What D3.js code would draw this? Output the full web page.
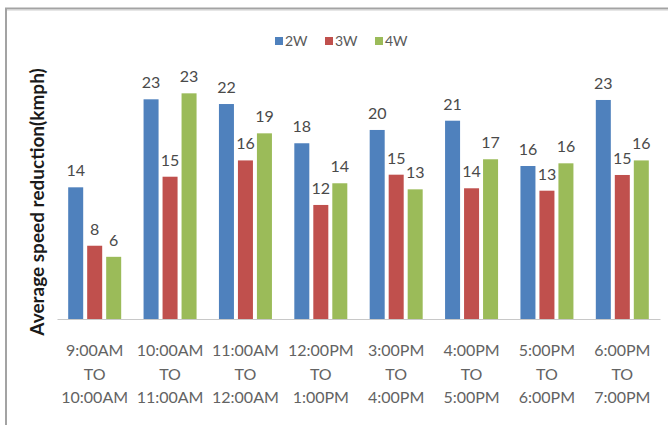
<!DOCTYPE html>
<html>
<head>
<meta charset="utf-8">
<script src="https://cdn.jsdelivr.net/npm/d3@7"></script>
<style>
  html, body { margin: 0; padding: 0; background: #fff; }
  svg { display: block; }
</style>
</head>
<body>
<svg id="chart" width="668" height="425"></svg>
<script>
const categories = [
  "9:00AM|TO|10:00AM",
  "10:00AM|TO|11:00AM",
  "11:00AM|TO|12:00AM",
  "12:00PM|TO|1:00PM",
  "3:00PM|TO|4:00PM",
  "4:00PM|TO|5:00PM",
  "5:00PM|TO|6:00PM",
  "6:00PM|TO|7:00PM"
];
const seriesNames = ["2W", "3W", "4W"];
const values2W = [13.66, 22.79, 22.30, 18.23, 19.61, 20.57, 15.87, 22.72];
const values3W = [7.60, 14.76, 16.45, 11.83, 14.97, 13.56, 13.31, 14.94];
const values4W = [6.45, 23.41, 19.26, 14.08, 13.45, 16.57, 16.15, 16.45];
const seriesColors = ["#4F81BD", "#C0504D", "#9BBB59"];
const yTitle = "Average speed reduction(kmph)";

const seriesValues = [values2W, values3W, values4W];
const svg = d3.select("#chart");
const FONT = "Lato, 'Open Sans', sans-serif";

// frame (top and left edges visible)
svg.append("line").attr("x1", 5).attr("x2", 668).attr("y1", 8.5).attr("y2", 8.5)
  .attr("stroke", "#a3a3a3").attr("stroke-width", 2);
svg.append("line").attr("x1", 6).attr("x2", 6).attr("y1", 8).attr("y2", 425)
  .attr("stroke", "#a3a3a3").attr("stroke-width", 2);
svg.append("line").attr("x1", 7).attr("x2", 668).attr("y1", 10.5).attr("y2", 10.5)
  .attr("stroke", "#e6e6e6").attr("stroke-width", 1);

const x = d3.scaleBand().domain(categories).range([57, 660]).paddingInner(0).paddingOuter(0);
const xSub = d3.scaleBand().domain(seriesNames).range([-26.5, 26.5]).paddingInner(0.21);
const y = d3.scaleLinear().domain([0, 25]).range([319, 78]);

const rows = [];
categories.forEach((c, i) => {
  seriesNames.forEach((s, j) => {
    rows.push({ cat: c, series: s, value: seriesValues[j][i], color: seriesColors[j] });
  });
});

const g = svg.append("g");
g.selectAll("rect.bar").data(rows).enter().append("rect")
  .attr("class", "bar")
  .attr("x", d => x(d.cat) + x.bandwidth() / 2 + xSub(d.series))
  .attr("width", xSub.bandwidth())
  .attr("y", d => y(d.value))
  .attr("height", d => y(0) - y(d.value))
  .attr("fill", d => d.color);

// data labels
const fmt = d3.format(".0f");
g.selectAll("text.lbl").data(rows).enter().append("text")
  .attr("class", "lbl")
  .attr("x", d => x(d.cat) + x.bandwidth() / 2 + xSub(d.series) + xSub.bandwidth() / 2)
  .attr("y", d => y(d.value) - 11)
  .attr("text-anchor", "middle")
  .attr("font-family", FONT)
  .attr("font-size", 16)
  .attr("fill", "#4a4a4a")
  .text(d => fmt(d.value));

// x axis
const xAxis = svg.append("g")
  .attr("transform", `translate(0,${y(0)})`)
  .call(d3.axisBottom(x).tickSize(0).tickPadding(0));
xAxis.select(".domain").attr("stroke", "#c8c8c8").attr("stroke-width", 1.2);
xAxis.selectAll(".tick text").each(function (d) {
  const t = d3.select(this);
  t.text(null).attr("y", 0).attr("dy", null)
    .attr("font-family", FONT).attr("font-size", 16).attr("fill", "#636363");
  d.split("|").forEach((line, k) => {
    t.append("tspan").attr("x", 0).attr("y", 37 + k * 23.5).text(line);
  });
});

// y title
svg.append("text")
  .attr("transform", "translate(44,202) rotate(-90)")
  .attr("text-anchor", "middle")
  .attr("font-family", FONT)
  .attr("font-weight", "bold")
  .attr("font-size", 19)
  .attr("fill", "#1a1a1a")
  .text(yTitle);

// legend
const legendX = [275, 325, 375];
const legend = svg.append("g");
seriesNames.forEach((s, j) => {
  legend.append("rect").attr("x", legendX[j]).attr("y", 37).attr("width", 8).attr("height", 8)
    .attr("fill", seriesColors[j]);
  legend.append("text").attr("x", legendX[j] + 10).attr("y", 45.5)
    .attr("font-family", FONT).attr("font-size", 14).attr("fill", "#595959").text(s);
});
</script>
</body>
</html>
